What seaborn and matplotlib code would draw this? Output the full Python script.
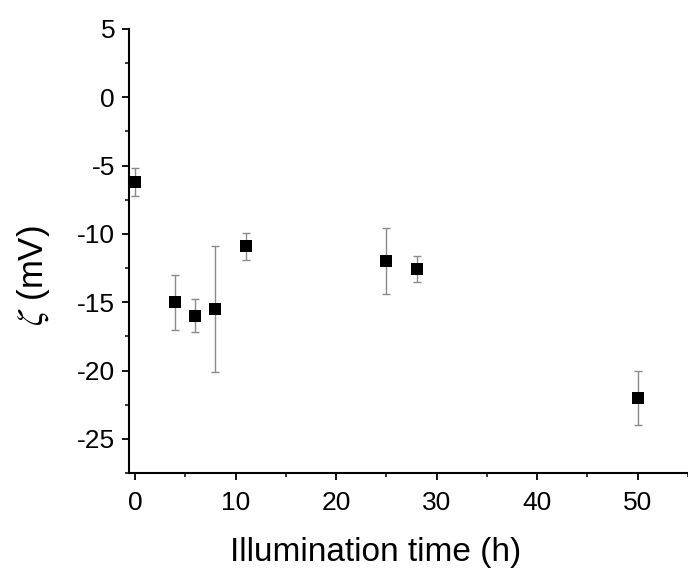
import matplotlib
matplotlib.use("Agg")
import matplotlib.pyplot as plt
import seaborn as sns
import pandas as pd
from matplotlib.ticker import MultipleLocator

time_h = [0, 4, 6, 8, 11, 25, 28, 50]
zeta_mv = [-6.2, -15.0, -16.0, -15.5, -10.9, -12.0, -12.6, -22.0]
zeta_err = [1.0, 2.0, 1.2, 4.6, 1.0, 2.4, 0.95, 2.0]

df = pd.DataFrame({"t": time_h, "z": zeta_mv, "e": zeta_err})

sns.set_theme(style="ticks")
plt.rcParams["font.family"] = ["Liberation Sans", "DejaVu Sans"]
plt.rcParams["axes.unicode_minus"] = False
plt.rcParams["mathtext.fontset"] = "stix"
plt.rcParams["text.color"] = "black"
plt.rcParams["axes.labelcolor"] = "black"

fig = plt.figure(figsize=(6.88, 5.75), dpi=100)
ax = fig.add_axes([129 / 688, 102 / 575, 559 / 688, 444 / 575])

ax.errorbar(df["t"], df["z"], yerr=df["e"], fmt="none", ecolor="#8a8a8a",
            elinewidth=1.0, capsize=3, capthick=1.0, zorder=2)
sns.scatterplot(data=df, x="t", y="z", marker="s", color="black", s=80,
                edgecolor="black", linewidth=0, ax=ax, zorder=3)

ax.set_xlim(-0.6, 55)
ax.set_ylim(-27.5, 5)
ax.xaxis.set_major_locator(MultipleLocator(10))
ax.xaxis.set_minor_locator(MultipleLocator(5))
ax.yaxis.set_major_locator(MultipleLocator(5))
ax.yaxis.set_minor_locator(MultipleLocator(2.5))
ax.tick_params(which="major", direction="out", length=5, width=1.3,
               labelsize=19, colors="black", pad=5)
ax.tick_params(axis="x", which="major", pad=8)
ax.tick_params(which="minor", direction="out", length=3, width=1.3)

for s in ["top", "right"]:
    ax.spines[s].set_visible(False)
for s in ["left", "bottom"]:
    ax.spines[s].set_linewidth(1.5)
    ax.spines[s].set_color("black")

ax.set_xlabel("Illumination time (h)", fontsize=24)
ax.set_ylabel(r"$\zeta$ (mV)", fontsize=25)
ax.xaxis.set_label_coords((376 - 129) / 559, -(552 - 473) / 444, transform=ax.transAxes)
ax.yaxis.set_label_coords((33 - 129) / 559, (473 - 276) / 444, transform=ax.transAxes)
ax.xaxis.label.set_va("center")
ax.yaxis.label.set_va("center")

fig.savefig("out.png", dpi=100)
